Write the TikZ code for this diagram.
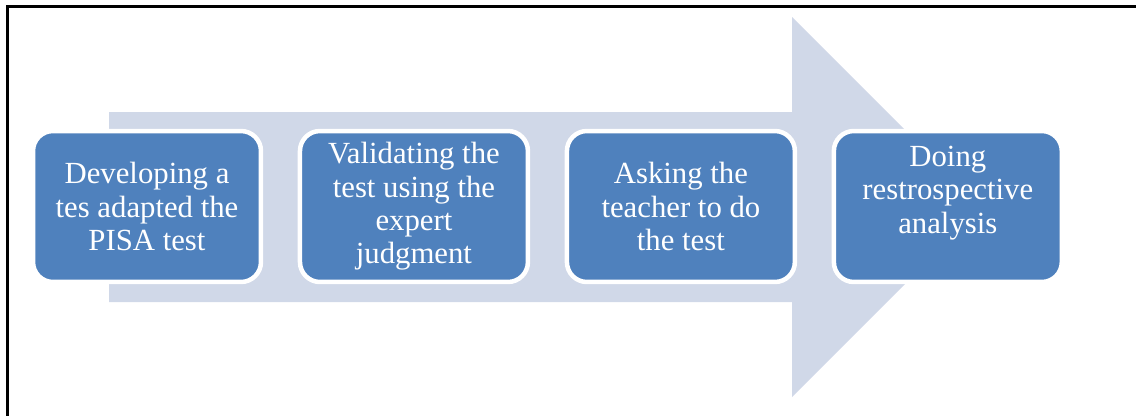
\documentclass[tikz,border=0pt]{standalone}
\usepackage{fontspec}
\setmainfont{Liberation Serif}
\usetikzlibrary{positioning}
\definecolor{stepblue}{RGB}{79,129,189}
\definecolor{arrowgray}{RGB}{208,216,232}

\begin{document}
\begin{tikzpicture}[x=0.02cm,y=-0.02cm,
    stepbox/.style={draw=white, line width=0.09cm, fill=stepblue, rounded corners=0.4cm,
      minimum width=4.56cm, minimum height=3.02cm, text=white, align=center,
      font=\fontsize{17.5}{19}\selectfont, inner sep=2pt}]
    \useasboundingbox (0,0) rectangle (1136,416);
    % Frame
    \draw[line width=0.06cm] (1136,6) -- (7.5,6) -- (7.5,416);

    % Big arrow behind the steps
    \fill[arrowgray] (109,112) -- (792,112) -- (792,17) -- (982,207) -- (792,397) -- (792,302) -- (109,302) -- cycle;

    % Steps
    \node[stepbox] (develop) at (147,206.5) {Developing a\\tes adapted the\\PISA test};
    \node[stepbox, right=0.69cm of develop] (validate) {Validating the\\test using the\\expert\\judgment};
    \node[stepbox, right=0.69cm of validate] (ask) {Asking the\\teacher to do\\the test};
    \node[stepbox, right=0.69cm of ask] (analyse) {Doing\\restrospective\\analysis\\\mbox{}};
\end{tikzpicture}
\end{document}
